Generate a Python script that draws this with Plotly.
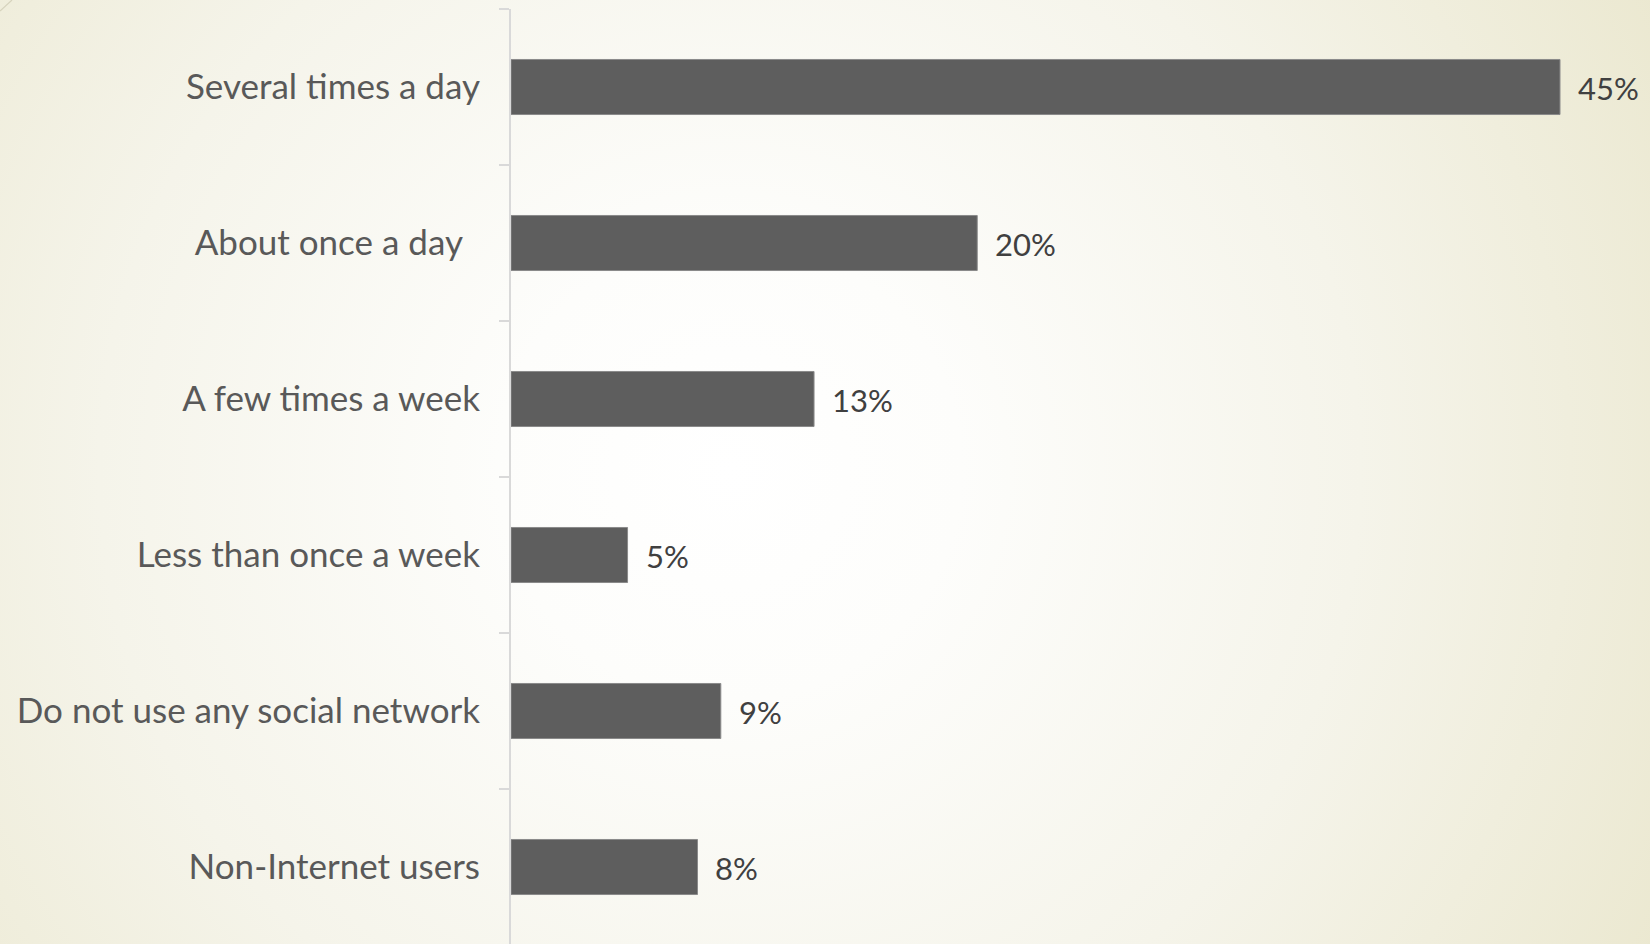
import base64
import plotly.graph_objects as go

# ---- data ----
categories = [
    "Several times a day",
    "About once a day\u00a0\u00a0",
    "A few times a week",
    "Less than once a week",
    "Do not use any social network",
    "Non-Internet users",
]
values = [45, 20, 13, 5, 9, 8]
value_labels = ["45%", "20%", "13%", "5%", "9%", "8%"]

W, H = 1650, 944

# ---- background (radial gradient, like the slide theme) ----
svg = f"""<svg xmlns='http://www.w3.org/2000/svg' width='{W}' height='{H}' viewBox='0 0 {W} {H}'>
<defs><radialGradient id='g' gradientUnits='userSpaceOnUse' cx='730' cy='470' r='1050'>
<stop offset='0' stop-color='#ffffff'/>
<stop offset='0.22' stop-color='#fdfdfb'/>
<stop offset='0.6' stop-color='#f5f4ea'/>
<stop offset='1' stop-color='#ebe8d0'/>
</radialGradient></defs>
<rect x='0' y='0' width='{W}' height='{H}' fill='url(#g)'/>
<line x1='0' y1='11' x2='12' y2='0' stroke='#d6d3bd' stroke-width='1.2'/>
</svg>"""
bg_uri = "data:image/svg+xml;base64," + base64.b64encode(svg.encode()).decode()

fig = go.Figure()
fig.add_trace(go.Bar(
    x=values,
    y=categories,
    orientation="h",
    width=0.353,
    marker=dict(color="#5e5e5e", line=dict(color="#8a8a8a", width=1)),
    hoverinfo="skip",
))

for v, c, lab in zip(values, categories, value_labels):
    fig.add_annotation(
        x=v, y=c, text=lab, showarrow=False,
        xanchor="left", yanchor="middle", xshift=16, yshift=-1,
        font=dict(family="Lato, sans-serif", size=31, color="#404040"),
    )

x0_px = 511
px_per_unit = (1560 - 511) / 45.0
x_max = (W - x0_px) / px_per_unit
band = 156.0
top_px = 9
dom_top = 1 - top_px / H
n_units = (H - top_px) / band

fig.update_layout(
    width=W, height=H,
    margin=dict(l=0, r=0, t=0, b=0),
    paper_bgcolor="rgba(0,0,0,0)",
    plot_bgcolor="rgba(0,0,0,0)",
    showlegend=False,
    images=[dict(source=bg_uri, xref="paper", yref="paper", x=0, y=1,
                 sizex=1, sizey=1, sizing="stretch", layer="below",
                 xanchor="left", yanchor="top")],
    xaxis=dict(domain=[x0_px / W, 1], range=[0, x_max], visible=False,
               showgrid=False, zeroline=False),
    yaxis=dict(
        domain=[0, dom_top],
        type="category",
        categoryorder="array", categoryarray=categories,
        range=[-0.5 + n_units, -0.5],
        showgrid=False, zeroline=False,
        showline=True, linecolor="#d9d9d9", linewidth=2,
        ticks="outside", tickson="boundaries", ticklen=10,
        tickcolor="#d9d9d9", tickwidth=2,
        ticklabelstandoff=22,
        tickfont=dict(family="Lato, sans-serif", size=35, color="#595959"),
    ),
    bargap=0.65,
)

fig.write_html("out.html")
